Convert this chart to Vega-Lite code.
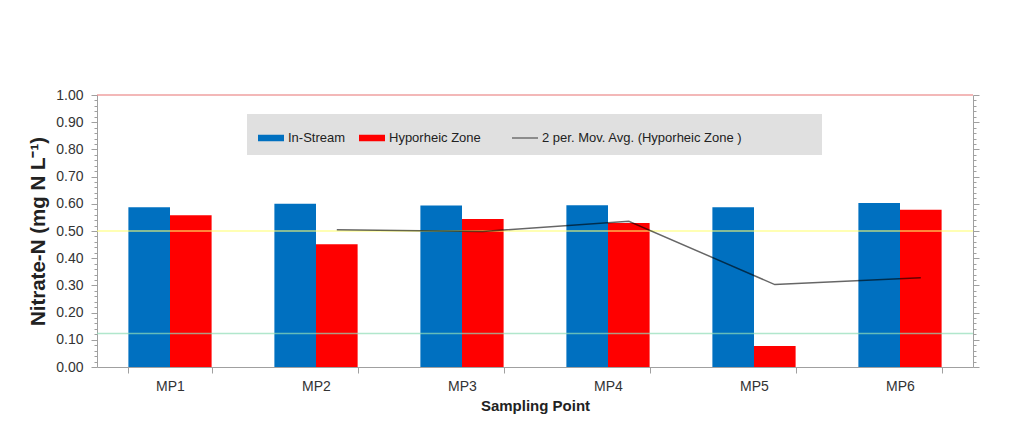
{
  "$schema": "https://vega.github.io/schema/vega-lite/v6.json",
  "width": 876,
  "height": 272,
  "autosize": {"type": "none"},
  "padding": {"left": 97, "top": 95, "right": 46, "bottom": 72},
  "background": "white",
  "config": {
    "view": {"stroke": null},
    "font": "Liberation Sans",
    "axis": {"domainColor": "#A0A0A0", "tickColor": "#A0A0A0", "labelColor": "#333333", "titleColor": "#222222", "grid": false}
  },
  "datasets": {
    "bars": [
      {"point": "MP1", "series": "In-Stream", "value": 0.587},
      {"point": "MP1", "series": "Hyporheic Zone", "value": 0.558},
      {"point": "MP2", "series": "In-Stream", "value": 0.600},
      {"point": "MP2", "series": "Hyporheic Zone", "value": 0.451},
      {"point": "MP3", "series": "In-Stream", "value": 0.594},
      {"point": "MP3", "series": "Hyporheic Zone", "value": 0.544},
      {"point": "MP4", "series": "In-Stream", "value": 0.595},
      {"point": "MP4", "series": "Hyporheic Zone", "value": 0.529},
      {"point": "MP5", "series": "In-Stream", "value": 0.587},
      {"point": "MP5", "series": "Hyporheic Zone", "value": 0.077},
      {"point": "MP6", "series": "In-Stream", "value": 0.603},
      {"point": "MP6", "series": "Hyporheic Zone", "value": 0.578}
    ],
    "mavg": [
      {"point": "MP2", "series": "2 per. Mov. Avg. (Hyporheic Zone )", "of": "Hyporheic Zone", "value": 0.505},
      {"point": "MP3", "series": "2 per. Mov. Avg. (Hyporheic Zone )", "of": "Hyporheic Zone", "value": 0.498},
      {"point": "MP4", "series": "2 per. Mov. Avg. (Hyporheic Zone )", "of": "Hyporheic Zone", "value": 0.536},
      {"point": "MP5", "series": "2 per. Mov. Avg. (Hyporheic Zone )", "of": "Hyporheic Zone", "value": 0.303},
      {"point": "MP6", "series": "2 per. Mov. Avg. (Hyporheic Zone )", "of": "Hyporheic Zone", "value": 0.328}
    ],
    "refs": [
      {"line": "upper", "value": 1.0},
      {"line": "middle", "value": 0.5},
      {"line": "lower", "value": 0.123}
    ]
  },
  "resolve": {"axis": {"y": "independent"}},
  "layer": [
    {
      "data": {"name": "bars"},
      "mark": {"type": "bar"},
      "encoding": {
        "x": {
          "field": "point", "type": "nominal", "sort": null,
          "scale": {"paddingInner": 0.43, "paddingOuter": 0.215},
          "axis": {"title": "Sampling Point", "labelAngle": 0, "labelFontSize": 14, "labelPadding": 6, "tickSize": 6, "tickBand": "extent", "titleFontSize": 15, "titleFontWeight": "bold", "titlePadding": 5}
        },
        "xOffset": {"field": "series", "type": "nominal", "scale": {"domain": ["In-Stream", "Hyporheic Zone"], "paddingInner": 0, "paddingOuter": 0}},
        "y": {
          "field": "value", "type": "quantitative",
          "scale": {"domain": [0, 1], "nice": false},
          "axis": {
            "orient": "left",
            "title": "Nitrate-N (mg N L⁻¹)",
            "titleFontSize": 20.5, "titleFontWeight": "bold", "titlePadding": 7,
            "values": [0,0.02,0.04,0.06,0.08,0.1,0.12,0.14,0.16,0.18,0.2,0.22,0.24,0.26,0.28,0.3,0.32,0.34,0.36,0.38,0.4,0.42,0.44,0.46,0.48,0.5,0.52,0.54,0.56,0.58,0.6,0.62,0.64,0.66,0.68,0.7,0.72,0.74,0.76,0.78,0.8,0.82,0.84,0.86,0.88,0.9,0.92,0.94,0.96,0.98,1],
            "labelExpr": "round(datum.value*100) % 10 === 0 ? format(datum.value, '.2f') : ''",
            "labelFontSize": 14, "labelPadding": 8,
            "tickSize": {"condition": {"test": "round(datum.value*100) % 10 === 0", "value": 6}, "value": 3}
          }
        },
        "color": {
          "field": "series", "type": "nominal",
          "scale": {"domain": ["In-Stream", "Hyporheic Zone", "2 per. Mov. Avg. (Hyporheic Zone )"], "range": ["#0070C0", "#FF0000", "#707070"]},
          "legend": {
            "title": null,
            "orient": "none", "legendX": 150, "legendY": 19,
            "direction": "horizontal", "columns": 3,
            "fillColor": "#E0E0E0", "padding": 10,
            "labelFontSize": 13, "labelColor": "#222222", "labelOffset": 3, "columnPadding": 10, "labelLimit": 600,
            "symbolType": "M-1,-0.25H1V0.25H-1Z", "symbolSize": 676,
            "labelExpr": "datum.label === 'Hyporheic Zone' ? 'Hyporheic Zone\u00a0\u00a0\u00a0\u00a0\u00a0\u200b' : datum.label === '2 per. Mov. Avg. (Hyporheic Zone )' ? datum.label + '\u00a0\u00a0\u00a0\u00a0\u00a0\u00a0\u00a0\u00a0\u00a0\u00a0\u00a0\u00a0\u00a0\u00a0\u00a0\u00a0\u00a0\u00a0\u00a0\u200b' : datum.label",
            "encode": {
              "symbols": {
                "update": {
                  "shape": {"signal": "datum.value === '2 per. Mov. Avg. (Hyporheic Zone )' ? 'M-1,0H1' : 'M-1,-0.25H1V0.25H-1Z'"},
                  "fill": {"signal": "datum.value === '2 per. Mov. Avg. (Hyporheic Zone )' ? 'transparent' : (datum.value === 'In-Stream' ? '#0070C0' : '#FF0000')"},
                  "stroke": {"signal": "datum.value === '2 per. Mov. Avg. (Hyporheic Zone )' ? '#707070' : 'transparent'"},
                  "strokeWidth": {"value": 1.5},
                  "opacity": {"value": 1}
                }
              }
            }
          }
        }
      }
    },
    {
      "data": {"name": "refs"},
      "mark": {"type": "rule", "strokeWidth": 1.5, "opacity": 0.7},
      "encoding": {
        "y": {
          "field": "value", "type": "quantitative",
          "axis": {
            "orient": "right", "title": null, "labels": false, "domain": true,
            "values": [0,0.02,0.04,0.06,0.08,0.1,0.12,0.14,0.16,0.18,0.2,0.22,0.24,0.26,0.28,0.3,0.32,0.34,0.36,0.38,0.4,0.42,0.44,0.46,0.48,0.5,0.52,0.54,0.56,0.58,0.6,0.62,0.64,0.66,0.68,0.7,0.72,0.74,0.76,0.78,0.8,0.82,0.84,0.86,0.88,0.9,0.92,0.94,0.96,0.98,1],
            "tickSize": {"condition": {"test": "round(datum.value*100) % 10 === 0", "value": 6}, "value": 3}
          }
        },
        "stroke": {
          "field": "line", "type": "nominal",
          "scale": {"domain": ["upper", "middle", "lower"], "range": ["#E87878", "#FFFF70", "#90DDB8"]},
          "legend": null
        }
      }
    },
    {
      "data": {"name": "mavg"},
      "mark": {"type": "line", "strokeWidth": 1.5, "opacity": 0.6},
      "encoding": {
        "x": {"field": "point", "type": "nominal", "sort": null},
        "xOffset": {"field": "of", "type": "nominal"},
        "y": {"field": "value", "type": "quantitative", "axis": null},
        "color": {"value": "#000000"}
      }
    }
  ]
}
